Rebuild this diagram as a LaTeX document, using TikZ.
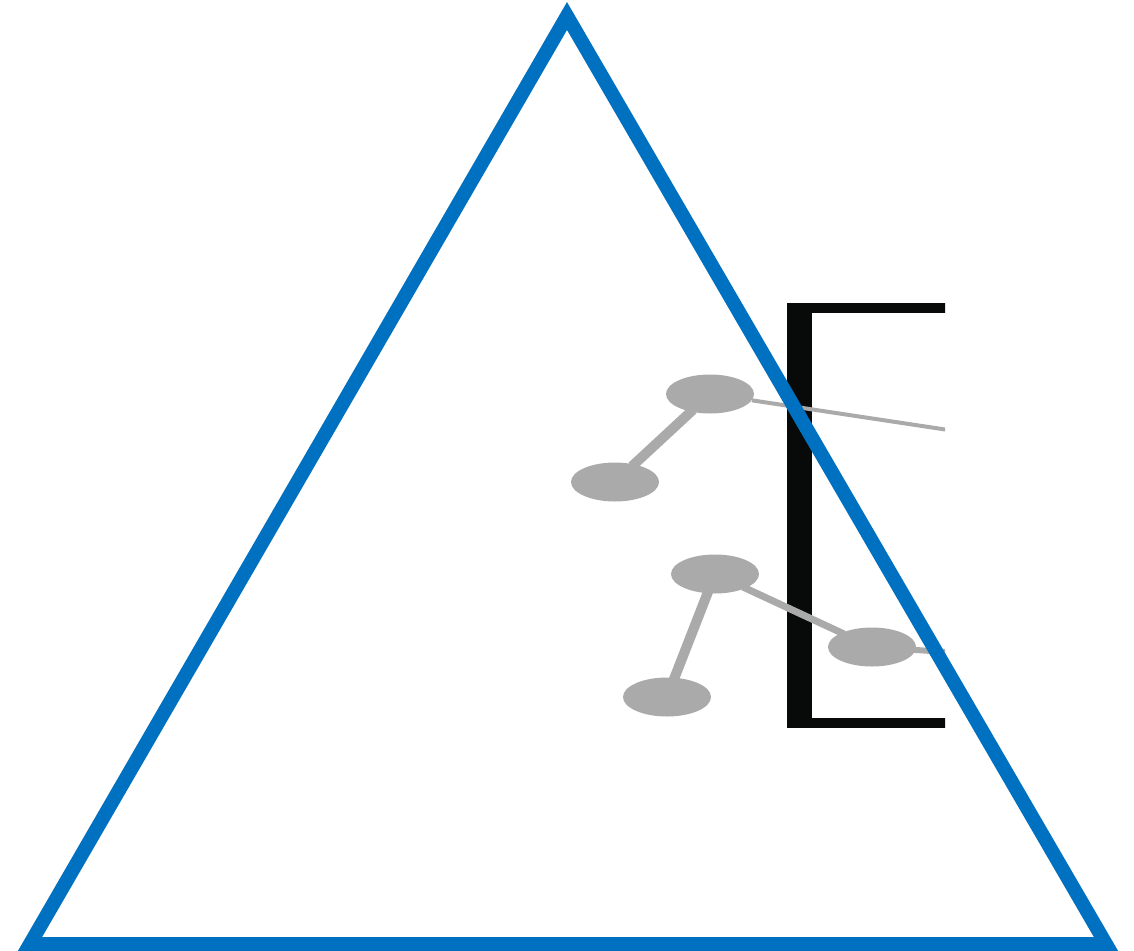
\documentclass[tikz,border=0pt]{standalone}
\usepackage{xcolor}
\usepackage{tikz}
\usetikzlibrary{shapes.geometric, positioning}
\definecolor{myblue}{RGB}{0,112,192}
\definecolor{mygrey}{RGB}{170,170,170}
\definecolor{mydark}{RGB}{8,10,10}
\tikzset{
  atom/.style={ellipse, fill=mygrey, draw=none,
    minimum width=88pt, minimum height=39pt, inner sep=0pt},
  bond/.style={color=mygrey, line width=10pt, shorten <=-3pt, shorten >=-3pt},
  thinbond/.style={color=mygrey, line width=4pt},
  bracket/.style={fill=mydark, draw=none},
  outline/.style={draw=myblue, line width=14pt, line join=miter}
}

\begin{document}
\begin{tikzpicture}[x=1pt, y=-1pt]
  \useasboundingbox (0,0) rectangle (1134,950);

  % Corners of the triangle
  \coordinate (apex) at (567,16);
  \coordinate (left) at (30,944);
  \coordinate (right) at (1106,944);

  \begin{scope}
    \clip (0,0) rectangle (945,950);

    % Bracket
    \fill[bracket] (787,303) rectangle (812,728);
    \fill[bracket] (787,303) rectangle (960,313);
    \fill[bracket] (787,718) rectangle (960,728);

    % Nodes
    \node[atom] (upper) at (710,394) {};
    \node[atom] (upperleft) at (615,482) {};
    \node[atom] (lower) at (715,574) {};
    \node[atom] (lowerright) at (872,647) {};
    \node[atom] (lowerleft) at (667,697) {};
    \coordinate (upperend) at (975,434);
    \coordinate (lowerend) at (975,654);

    % Paths
    \draw[bond] (upper) -- (upperleft);
    \draw[thinbond] (upper) -- (upperend);
    \draw[bond] (lower) -- (lowerleft);
    \draw[bond, line width=7pt] (lower) -- (lowerright);
    \draw[bond, line width=6pt] (lowerright) -- (lowerend);
  \end{scope}

  % Triangle
  \draw[outline] (apex) -- (left) -- (right) -- cycle;
\end{tikzpicture}
\end{document}
